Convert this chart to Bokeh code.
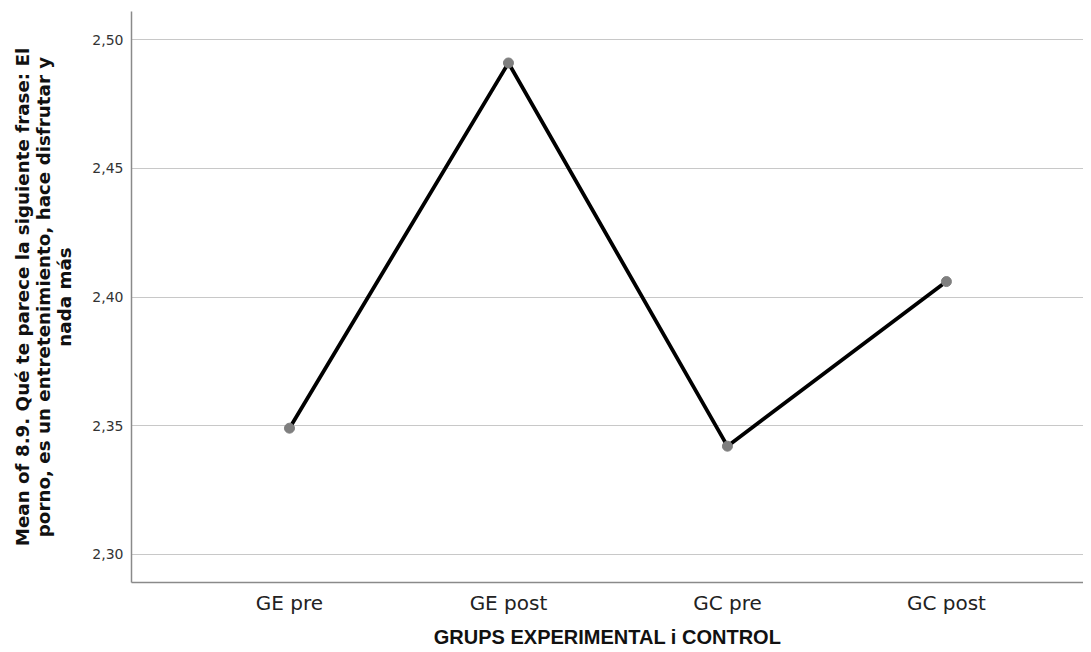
from bokeh.plotting import figure
from bokeh.models import Range1d, FixedTicker, CustomJSTickFormatter, ColumnDataSource
from bokeh.embed import file_html
from bokeh.resources import INLINE

categories = ["GE pre", "GE post", "GC pre", "GC post"]
means = [2.349, 2.491, 2.342, 2.406]
y_ticks = [2.30, 2.35, 2.40, 2.45, 2.50]

xs = list(range(len(categories)))
src = ColumnDataSource(dict(x=xs, y=means, cat=categories))

p = figure(width=1083, height=650, output_backend="svg", toolbar_location=None,
           x_range=Range1d(-0.7215, 3.626), y_range=Range1d(2.289, 2.511),
           min_border_left=131, min_border_top=11, min_border_bottom=0, min_border_right=0)
p.outline_line_color = None
p.background_fill_color = "white"
p.border_fill_color = "white"

p.line("x", "y", source=src, line_color="black", line_width=3.8)
p.scatter("x", "y", source=src, size=10, fill_color="#7f7f7f", line_color="#7f7f7f")

p.xgrid.grid_line_color = None
p.ygrid.grid_line_color = "#c8c8c8"
p.ygrid.grid_line_width = 1.2

p.xaxis.ticker = FixedTicker(ticks=xs)
p.xaxis.major_label_overrides = {i: c for i, c in enumerate(categories)}
p.yaxis.ticker = FixedTicker(ticks=y_ticks)
p.yaxis.formatter = CustomJSTickFormatter(code="return tick.toFixed(2).replace('.', ',');")

for ax in (p.xaxis[0], p.yaxis[0]):
    ax.major_tick_line_color = None
    ax.minor_tick_line_color = None
    ax.axis_line_color = "#8a8a8a"
    ax.axis_line_width = 1.5

p.yaxis.major_label_text_font = "DejaVu Sans"
p.yaxis.major_label_text_font_size = "14px"
p.yaxis.major_label_text_color = "#333333"
p.yaxis.major_label_standoff = 2

p.xaxis.major_label_text_font = "DejaVu Sans"
p.xaxis.major_label_text_font_size = "20px"
p.xaxis.major_label_text_color = "#222222"
p.xaxis.major_label_standoff = 2

p.xaxis.axis_label = "GRUPS EXPERIMENTAL i CONTROL"
p.xaxis.axis_label_text_font = "Liberation Sans"
p.xaxis.axis_label_text_font_style = "bold"
p.xaxis.axis_label_text_font_size = "20px"
p.xaxis.axis_label_text_color = "#111111"
p.xaxis.axis_label_standoff = 8

p.yaxis.axis_label = ("Mean of 8.9. Qué te parece la siguiente frase: El\n"
                      "porno, es un entretenimiento, hace disfrutar y\n"
                      "nada más")
p.yaxis.axis_label_text_font = "DejaVu Sans"
p.yaxis.axis_label_text_font_style = "bold"
p.yaxis.axis_label_text_font_size = "18.3px"
p.yaxis.axis_label_text_line_height = 1.0
p.yaxis.axis_label_text_color = "#111111"
p.yaxis.axis_label_standoff = 14

open("out.html", "w").write(file_html(p, INLINE))
